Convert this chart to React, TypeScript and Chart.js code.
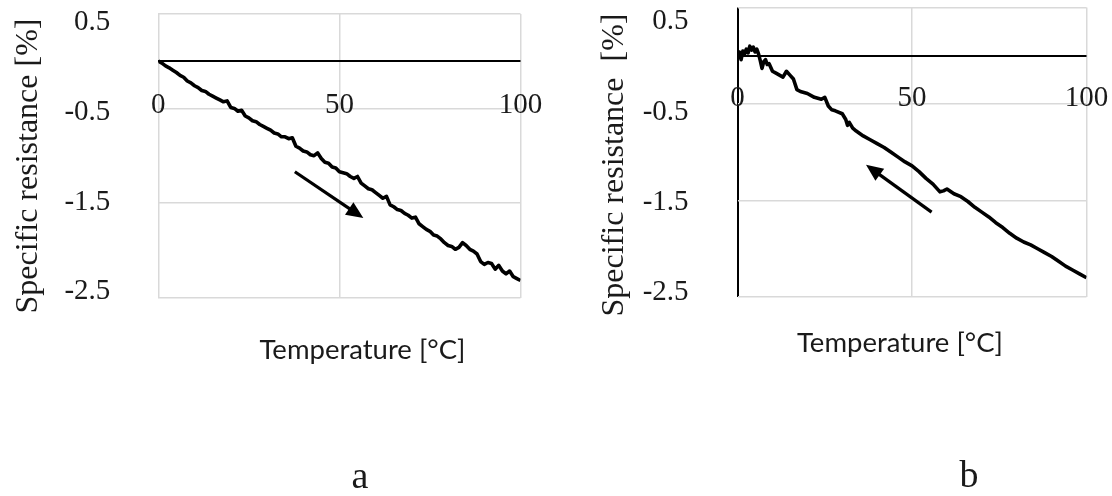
import React, { useEffect, useRef } from 'react';
import { Chart, registerables } from 'chart.js';

Chart.register(...registerables);

// ---------- data ----------
const tempA = [0, 1, 2, 3, 4, 5, 6, 7, 8, 9, 10, 11, 12, 13, 14, 15, 16, 17, 18, 19, 20, 21, 22, 23, 24, 25, 26, 27, 28, 29, 30, 31, 32, 33, 34, 35, 36, 37, 38, 39, 40, 41, 42, 43, 44, 45, 46, 47, 48, 49, 50, 51, 52, 53, 54, 55, 56, 57, 58, 59, 60, 61, 62, 63, 64, 65, 66, 67, 68, 69, 70, 71, 72, 73, 74, 75, 76, 77, 78, 79, 80, 81, 82, 83, 84, 85, 86, 87, 88, 89, 90, 91, 92, 93, 94, 95, 96, 97, 98, 99, 100];
const resA = [0, -0.02, -0.05, -0.07, -0.095, -0.12, -0.15, -0.17, -0.21, -0.23, -0.26, -0.28, -0.31, -0.32, -0.35, -0.37, -0.39, -0.41, -0.43, -0.42, -0.49, -0.5, -0.53, -0.52, -0.58, -0.6, -0.63, -0.64, -0.67, -0.69, -0.71, -0.73, -0.76, -0.77, -0.8, -0.8, -0.82, -0.81, -0.9, -0.92, -0.95, -0.96, -0.99, -1.0, -0.97, -1.03, -1.07, -1.08, -1.12, -1.13, -1.17, -1.18, -1.19, -1.22, -1.24, -1.22, -1.29, -1.32, -1.35, -1.36, -1.39, -1.42, -1.45, -1.43, -1.52, -1.54, -1.57, -1.58, -1.61, -1.63, -1.66, -1.65, -1.72, -1.75, -1.78, -1.8, -1.84, -1.85, -1.88, -1.92, -1.95, -1.96, -1.99, -1.97, -1.92, -1.95, -1.99, -2.01, -2.04, -2.12, -2.15, -2.13, -2.14, -2.2, -2.16, -2.22, -2.25, -2.22, -2.28, -2.3, -2.32];

const tempB = [0, 0.5, 1, 1.5, 2, 2.5, 3, 3.5, 4, 4.5, 5, 5.5, 6, 6.5, 7, 7.5, 8, 8.5, 9, 10, 11, 12, 13, 14, 15, 16, 17, 18, 20, 22, 24, 25, 26, 27, 28, 30, 31, 31.5, 32, 33, 34, 36, 38, 40, 42, 44, 46, 48, 50, 52, 54, 56, 58, 59, 60, 62, 64, 66, 68, 70, 72, 74, 76, 78, 80, 82, 84, 86, 88, 90, 92, 94, 96, 98, 100];
const resB = [-0.02, 0.04, -0.04, 0.05, 0.02, 0.07, 0.03, 0.1, 0.06, 0.09, 0.04, 0.07, 0.02, -0.05, -0.13, -0.06, -0.04, -0.09, -0.08, -0.16, -0.18, -0.2, -0.22, -0.16, -0.2, -0.24, -0.35, -0.37, -0.39, -0.43, -0.45, -0.43, -0.52, -0.56, -0.57, -0.6, -0.66, -0.72, -0.69, -0.75, -0.78, -0.83, -0.87, -0.91, -0.95, -1.0, -1.05, -1.1, -1.14, -1.2, -1.27, -1.33, -1.41, -1.4, -1.38, -1.43, -1.46, -1.51, -1.57, -1.62, -1.67, -1.73, -1.78, -1.84, -1.89, -1.93, -1.96, -2.0, -2.04, -2.08, -2.13, -2.18, -2.22, -2.26, -2.3];

const xTicks = [0, 50, 100];
const yTicks = [-2.5, -1.5, -0.5, 0, 0.5];
const yLabelTicks = [-2.5, -1.5, -0.5, 0.5];

// arrows in data coordinates: [start, end]
const arrowA = [[37.7, -1.17], [56.6, -1.66]];
const arrowB = [[55.6, -1.62], [36.8, -1.13]];

const yTitleA = 'Specific resistance [%]';
const yTitleB = 'Specific resistance  [%]';
const xTitle = 'Temperature [°C]';
const captionA = 'a';
const captionB = 'b';

// ---------- styles ----------
const W = 556;
const H = 496;
const GRID = '#d9d9d9';
const TEXT = '#1a1a1a';
const SERIF = '"Liberation Serif", "Times New Roman", serif';
const SANS = 'Lato, "Open Sans", sans-serif';
const TICK_SIZE = 29;

const overlay = {
  id: 'overlay',
  afterDraw(chart: any, _args: any, o: any) {
    const { ctx } = chart;
    const xs = chart.scales.x;
    const ys = chart.scales.y;
    ctx.save();
    // x tick labels next to the zero line
    ctx.fillStyle = TEXT;
    ctx.font = `${TICK_SIZE}px ${SERIF}`;
    ctx.textAlign = 'center';
    ctx.textBaseline = 'middle';
    const y0 = ys.getPixelForValue(0);
    xTicks.forEach((v) => ctx.fillText(String(v), xs.getPixelForValue(v), y0 + o.xLabelGap));

    // arrow
    const [s, e] = o.arrow;
    const sx = xs.getPixelForValue(s[0]);
    const sy = ys.getPixelForValue(s[1]);
    const ex = xs.getPixelForValue(e[0]);
    const ey = ys.getPixelForValue(e[1]);
    const ang = Math.atan2(ey - sy, ex - sx);
    const c = Math.cos(ang);
    const sn = Math.sin(ang);
    const hl = 17;
    const hw = 7.5;
    const bx = ex - hl * c;
    const by = ey - hl * sn;
    ctx.strokeStyle = '#000';
    ctx.fillStyle = '#000';
    ctx.lineWidth = 3.2;
    ctx.beginPath();
    ctx.moveTo(sx, sy);
    ctx.lineTo(bx + 2 * c, by + 2 * sn);
    ctx.stroke();
    ctx.beginPath();
    ctx.moveTo(ex, ey);
    ctx.lineTo(bx - hw * sn, by + hw * c);
    ctx.lineTo(bx + hw * sn, by - hw * c);
    ctx.closePath();
    ctx.fill();

    // y title
    ctx.fillStyle = TEXT;
    ctx.save();
    ctx.translate(o.yTitlePos[0], o.yTitlePos[1]);
    ctx.rotate(-Math.PI / 2);
    ctx.font = `${o.yTitleSize}px ${SERIF}`;
    ctx.textAlign = 'center';
    ctx.textBaseline = 'middle';
    ctx.fillText(o.yTitle, 0, 0);
    ctx.restore();

    // x title
    ctx.font = `${o.xTitleSize}px ${SANS}`;
    ctx.textAlign = 'center';
    ctx.textBaseline = 'alphabetic';
    ctx.fillText(xTitle, o.xTitlePos[0], o.xTitlePos[1]);

    // caption
    ctx.font = `${o.captionSize}px ${SERIF}`;
    ctx.fillText(o.caption, o.captionPos[0], o.captionPos[1]);
    ctx.restore();
  },
};

type PanelCfg = {
  left: number;
  temps: number[];
  res: number[];
  area: { l: number; r: number; t: number; b: number };
  labelRange: [number, number];
  blackYAxis: boolean;
  tickPad: number;
  overlay: any;
};

const panels: PanelCfg[] = [
  {
    left: 0,
    temps: tempA,
    res: resA,
    area: { l: 158.3, r: 520.5, t: 13.9, b: 297.5 },
    labelRange: [-2.565, 0.596],
    blackYAxis: false,
    tickPad: 48,
    overlay: {
      xLabelGap: 44,
      arrow: arrowA,
      yTitle: yTitleA,
      yTitleSize: 32,
      yTitlePos: [28.5, 166],
      xTitleSize: 27.5,
      xTitlePos: [362.5, 359],
      caption: captionA,
      captionSize: 38,
      captionPos: [360, 488],
    },
  },
  {
    left: 556,
    temps: tempB,
    res: resB,
    area: { l: 181.6, r: 530.5, t: 7.6, b: 297 },
    labelRange: [-2.55, 0.656],
    blackYAxis: true,
    tickPad: 49,
    overlay: {
      xLabelGap: 43,
      arrow: arrowB,
      yTitle: yTitleB,
      yTitleSize: 32,
      yTitlePos: [59, 165],
      xTitleSize: 27.5,
      xTitlePos: [344, 352],
      caption: captionB,
      captionSize: 38,
      captionPos: [413, 487],
    },
  },
];

function Panel({ cfg }: { cfg: PanelCfg }) {
  const ref = useRef<HTMLCanvasElement>(null);
  useEffect(() => {
    const a = cfg.area;
    const chart = new Chart(ref.current as HTMLCanvasElement, {
      type: 'scatter',
      data: {
        datasets: [
          {
            data: cfg.temps.map((t, i) => ({ x: t, y: cfg.res[i] })),
            showLine: true,
            borderColor: '#000',
            backgroundColor: '#000',
            borderWidth: 3.6,
            borderJoinStyle: 'round',
            pointRadius: 0,
            tension: 0,
          },
        ],
      },
      options: {
        responsive: false,
        animation: false,
        events: [],
        layout: { padding: { left: 0, top: a.t, right: W - a.r, bottom: 0 } },
        plugins: {
          legend: { display: false },
          tooltip: { enabled: false },
          overlay: cfg.overlay,
        } as any,
        scales: {
          x: {
            type: 'linear',
            min: 0,
            max: 100,
            afterBuildTicks: (s: any) => {
              s.ticks = xTicks.map((v) => ({ value: v }));
            },
            afterFit: (s: any) => {
              s.height = H - a.b;
              s.paddingLeft = 0;
              s.paddingRight = 0;
            },
            ticks: { display: false },
            border: { display: false },
            grid: {
              drawTicks: false,
              color: (c: any) => (cfg.blackYAxis && c.tick && c.tick.value === 0 ? '#000' : GRID),
              lineWidth: (c: any) => (cfg.blackYAxis && c.tick && c.tick.value === 0 ? 2 : 1.5),
            },
          },
          y: {
            type: 'linear',
            position: 'left',
            min: -2.5,
            max: 0.5,
            afterBuildTicks: (s: any) => {
              s.ticks = yTicks.map((v) => ({ value: v }));
            },
            afterFit: (s: any) => {
              s.width = 0;
              s.paddingTop = 0;
              s.paddingBottom = 0;
            },
            ticks: { display: false },
            border: { display: false },
            grid: {
              drawTicks: false,
              color: (c: any) => (c.tick && c.tick.value === 0 ? '#000' : GRID),
              lineWidth: (c: any) => (c.tick && c.tick.value === 0 ? 2 : 1.5),
            },
          },
          yl: {
            type: 'linear',
            position: 'left',
            min: cfg.labelRange[0],
            max: cfg.labelRange[1],
            afterBuildTicks: (s: any) => {
              s.ticks = yLabelTicks.map((v) => ({ value: v }));
            },
            afterFit: (s: any) => {
              s.width = a.l;
              s.paddingTop = 0;
              s.paddingBottom = 0;
            },
            ticks: {
              padding: cfg.tickPad,
              color: TEXT,
              font: { family: SERIF, size: TICK_SIZE },
              callback: (v: any) => String(v),
            },
            border: { display: false },
            grid: { display: false, drawTicks: false },
          },
        },
      } as any,
      plugins: [overlay as any],
    });
    return () => chart.destroy();
  }, [cfg]);
  return (
    <canvas
      ref={ref}
      width={W}
      height={H}
      style={{ position: 'absolute', left: cfg.left, top: 0, width: W, height: H }}
    />
  );
}

export default function App() {
  return (
    <div style={{ position: 'absolute', left: 0, top: 0, width: 1112, height: 496, background: '#fff' }}>
      {panels.map((p, i) => (
        <Panel key={i} cfg={p} />
      ))}
    </div>
  );
}
